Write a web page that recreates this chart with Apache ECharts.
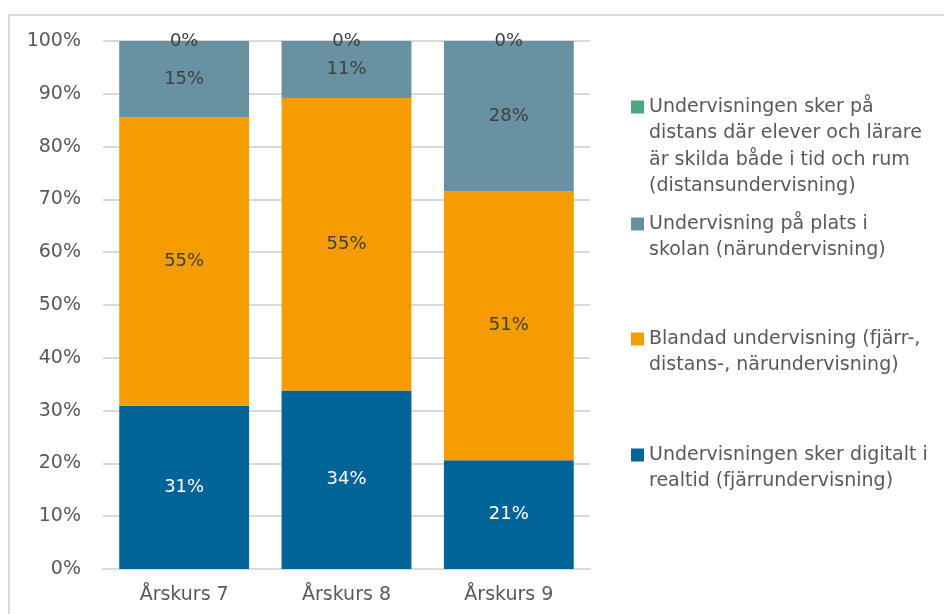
<!DOCTYPE html>
<html lang="sv">
<head>
	<meta charset="UTF-8">
	<title>Undervisningsform per årskurs</title>
	<script src="https://cdn.jsdelivr.net/npm/echarts@6/dist/echarts.min.js"></script>
	<style>
		html, body { margin: 0; padding: 0; background: #fff; }
	</style>
</head>
<body>
	<div id="main" style="width: 944px;height:614px;"></div>

	<script>
		// categories and series (percent of pupils)
		var categories = ['Årskurs 7', 'Årskurs 8', 'Årskurs 9'];
		var fjarr = [30.9, 33.8, 20.6];
		var blandad = [54.6, 55.4, 51.0];
		var nara = [14.5, 10.8, 28.4];
		var distans = [0, 0, 0];

		var names = [
			'Undervisningen sker digitalt i realtid (fjärrundervisning)',
			'Blandad undervisning (fjärr-, distans-, närundervisning)',
			'Undervisning på plats i skolan (närundervisning)',
			'Undervisningen sker på distans där elever och lärare är skilda både i tid och rum (distansundervisning)'
		];
		// wrapped legend text, same order as names
		var legendLines = [
			['Undervisningen sker digitalt i', 'realtid (fjärrundervisning)'],
			['Blandad undervisning (fjärr-,', 'distans-, närundervisning)'],
			['Undervisning på plats i', 'skolan (närundervisning)'],
			['Undervisningen sker på', 'distans där elever och lärare', 'är skilda både i tid och rum', '(distansundervisning)']
		];
		var colors = ['#006499', '#F49C00', '#6891A2', '#4EA47F'];
		// vertical centre of each legend swatch (= first text line)
		var legendIconY = [455, 339, 224, 107];

		var font = '"DejaVu Sans", sans-serif';
		var lineH = 26.5;
		var chart = echarts.init(document.getElementById('main'));

		function seriesItem(i, data, labelColor) {
			return {
				name: names[i],
				type: 'bar',
				stack: 'total',
				data: data,
				barCategoryGap: '20%',
				itemStyle: { color: colors[i] },
				label: {
					show: true,
					position: 'inside',
					color: labelColor,
					fontFamily: font,
					fontSize: 18,
					formatter: function (p) { return Math.round(p.value) + '%'; }
				}
			};
		}

		// legend text is centred on the swatch, so blank lines on top
		// push the first real line level with it
		var legends = legendLines.map(function (lines, i) {
			var blanks = lines.length - 1;
			var total = lines.length + blanks;
			return {
				data: [names[i]],
				left: 631,
				top: legendIconY[i] - total * lineH / 2,
				orient: 'vertical',
				icon: 'rect',
				itemWidth: 13,
				itemHeight: 13,
				itemGap: 0,
				padding: 0,
				selectedMode: false,
				formatter: function () {
					return new Array(blanks + 1).join('\n') + lines.join('\n');
				},
				textStyle: {
					color: '#595959',
					fontFamily: font,
					fontSize: 19,
					lineHeight: lineH
				}
			};
		});

		var option = {
			animation: false,
			backgroundColor: '#fff',
			graphic: [{
				type: 'rect',
				shape: { x: 9, y: 15, width: 960, height: 640 },
				style: { fill: 'none', stroke: '#d9d9d9', lineWidth: 2 },
				silent: true
			}],
			grid: { left: 103, right: 354, top: 41, bottom: 45 },
			legend: legends,
			xAxis: {
				type: 'category',
				data: categories,
				axisTick: { show: false },
				axisLine: { lineStyle: { color: '#d9d9d9', width: 2 } },
				axisLabel: { color: '#595959', fontFamily: font, fontSize: 19, margin: 17 }
			},
			yAxis: {
				type: 'value',
				min: 0,
				max: 100,
				interval: 10,
				axisLabel: {
					color: '#595959', fontFamily: font, fontSize: 19, margin: 22,
					formatter: '{value}%'
				},
				splitLine: { lineStyle: { color: '#d9d9d9', width: 2 } }
			},
			series: [
				seriesItem(0, fjarr, '#ffffff'),
				seriesItem(1, blandad, '#404040'),
				seriesItem(2, nara, '#404040'),
				seriesItem(3, distans, '#404040')
			]
		};
		chart.setOption(option);
	</script>
</body>
</html>
